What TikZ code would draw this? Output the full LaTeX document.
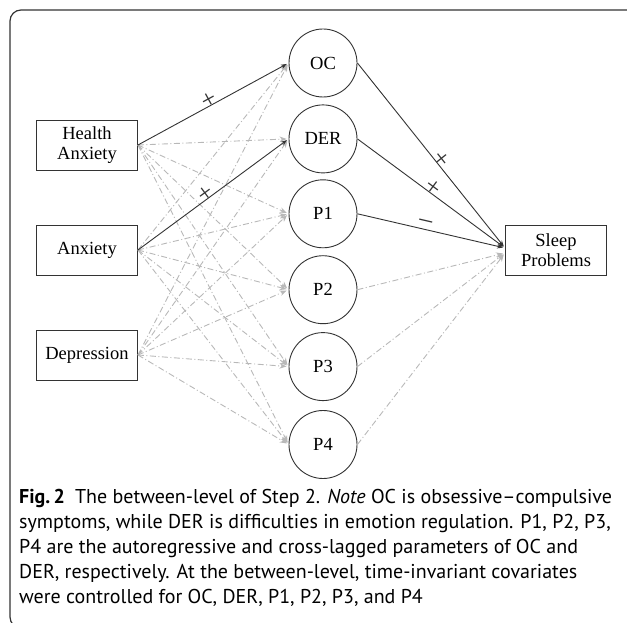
\documentclass[tikz,border=0pt]{standalone}
\usepackage{fontspec}
\setmainfont{Liberation Serif}
\newfontfamily\capfont{PT Sans}
\usetikzlibrary{arrows.meta, positioning}
\definecolor{bdr}{HTML}{333333}
\definecolor{pGray}{HTML}{B8B8B8}
\tikzset{
  % observed variables (rectangles) and between-level parameters (circles)
  obs/.style={draw=bdr, line width=0.9pt, minimum width=101pt, minimum height=50pt,
    inner sep=1pt, align=center, font=\fontsize{18.5}{20}\selectfont},
  lat/.style={draw=bdr, line width=0.9pt, circle, minimum size=68pt, inner sep=0pt,
    font=\fontsize{18.5}{20}\selectfont},
  % significant paths (solid) and non-significant paths (grey dash-dot)
  A/.style={-{Stealth[length=6pt,width=4.5pt]}, line width=0.9pt, draw=bdr, shorten >=2pt},
  Ag/.style={-{Stealth[length=7pt,width=5.5pt]}, line width=0.9pt, draw=pGray,
    dash pattern=on 6pt off 2.5pt on 1pt off 2.5pt, shorten >=2pt},
  sgn/.style={sloped, anchor=center, inner sep=0pt, text=bdr, font=\fontsize{26}{26}\selectfont},
}
\begin{document}
\begin{tikzpicture}[x=1pt, y=-1pt]
\useasboundingbox (0,0) rectangle (627,623);

% frame
\draw[bdr, line width=1.2pt, rounded corners=11pt] (627,10) -- (10,10) -- (10,628) -- (40,628);

% ── predictors ────────────────────────────────────────────
\node[obs] (ha)  at (87,145) {Health\\Anxiety};
\node[obs] (anx) at (87,250) {Anxiety};
\node[obs] (dep) at (87,355) {Depression};

% ── between-level parameters ──────────────────────────────
\node[lat] (oc) at (323,63) {OC};
\node[lat, below=7pt of oc]  (der) {DER};
\node[lat, below=6pt of der] (p1)  {P1};
\node[lat, below=7pt of p1]  (p2)  {P2};
\node[lat, below=8pt of p2]  (p3)  {P3};
\node[lat, below=9pt of p3]  (p4)  {P4};

% ── outcome ───────────────────────────────────────────────
\node[obs] (slp) at (556,250) {Sleep\\Problems};

% non-significant paths
\foreach \s/\t in {ha/der, ha/p1, ha/p2, ha/p3, ha/p4,
                   anx/oc, anx/p1, anx/p2, anx/p3, anx/p4,
                   dep/oc, dep/der, dep/p1, dep/p2, dep/p3, dep/p4}
  \draw[Ag] (\s.east) -- (\t.west);
\foreach \t in {p2, p3, p4}
  \draw[Ag] (\t.east) -- ([yshift=-3pt]slp.west);

% significant paths
\draw[A] (ha.east)  -- node[sgn, pos=0.49, yshift=4.5pt] {+} (oc.west);
\draw[A] (anx.east) -- node[sgn, pos=0.47, yshift=5pt] {+} (der.west);
\draw[A] (oc.east)  -- node[sgn, pos=0.54, yshift=5pt] {+} ([yshift=2pt]slp.west);
\draw[A] (der.east) -- node[sgn, pos=0.49, yshift=5pt] {+} ([yshift=2pt]slp.west);
\draw[A] (p1.east)  -- node[sgn, pos=0.45, yshift=6pt] {\textendash} ([yshift=2pt]slp.west);

% ── caption ───────────────────────────────────────────────
\node[anchor=north west, align=left, inner sep=0pt,
      font=\capfont\fontsize{20}{25}\selectfont] (cap) at (19,489) {%
  \textbf{Fig.\,2}\enspace The between-level of Step 2. \textit{Note} OC is obsessive\textendash compulsive\\
  symptoms, while DER is difficulties in emotion regulation. P1, P2, P3,\\
  P4 are the autoregressive and cross-lagged parameters of OC and\\
  DER, respectively. At the between-level, time-invariant covariates\\
  were controlled for OC, DER, P1, P2, P3, and P4};
\end{tikzpicture}
\end{document}
